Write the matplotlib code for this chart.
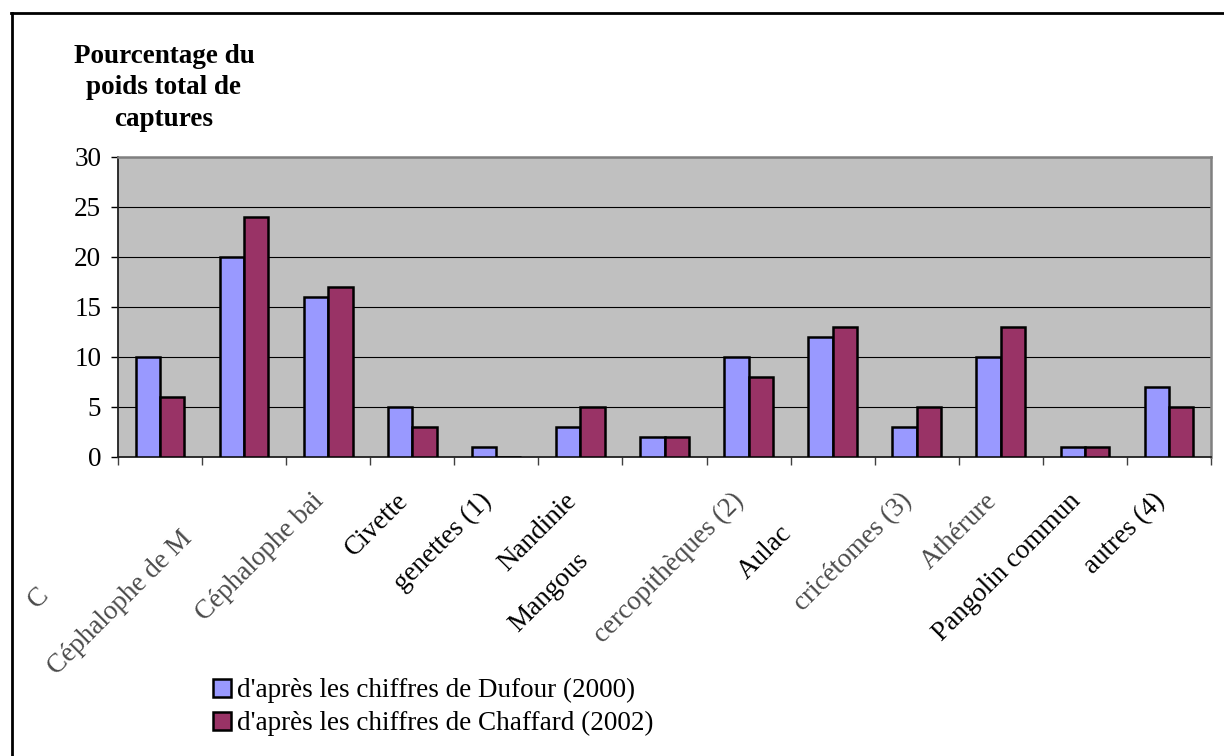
import matplotlib
matplotlib.use('Agg')
import matplotlib.pyplot as plt
import matplotlib.transforms as mtransforms
from matplotlib.lines import Line2D
import numpy as np

plt.rcParams['font.family'] = ['Liberation Serif', 'DejaVu Serif']
plt.rcParams['font.size'] = 19.5

#données
categories = ['C', 'Céphalophe de M', 'Céphalophe bai', 'Civette', 'genettes (1)',
              'Nandinie', 'Mangous', 'cercopithèques (2)', 'Aulac', 'cricétomes (3)',
              'Athérure', 'Pangolin commun', 'autres (4)']
dufour = [10, 20, 16, 5, 1, 3, 2, 10, 12, 3, 10, 1, 7]
chaffard = [6, 24, 17, 3, 0, 5, 2, 8, 13, 5, 13, 1, 5]
series_names = ["d'après les chiffres de Dufour (2000)", "d'après les chiffres de Chaffard (2002)"]
y_ticks = [0, 5, 10, 15, 20, 25, 30]
title = 'Pourcentage du\npoids total de\ncaptures'

fig = plt.figure(figsize=(12.24, 7.56), dpi=100)
ax = fig.add_axes([118/1224, 1-457/756, (1211-118)/1224, 300/756])
ax.set_facecolor('#C0C0C0')

x = np.arange(len(categories)) + 0.5
w = 0.29
b1 = ax.bar(x - w/2, dufour, w, color='#9999FF', edgecolor='black', linewidth=1.8, zorder=3,
            label=series_names[0])
b2 = ax.bar(x + w/2, chaffard, w, color='#993366', edgecolor='black', linewidth=1.8, zorder=3,
            label=series_names[1])

ax.set_xlim(0, len(categories))
ax.set_ylim(0, 30)
ax.set_yticks(y_ticks)
ax.set_xticks(np.arange(len(categories) + 1))
ax.set_xticklabels([])
ax.tick_params(axis='y', direction='out', length=5, width=1, pad=7)
ax.tick_params(axis='x', direction='out', length=5.5, width=1, color='#404040')
ax.yaxis.grid(True, color='black', linewidth=0.8, zorder=1)
ax.set_axisbelow(True)
for s in ['left', 'bottom']:
    ax.spines[s].set_color('#202020')
    ax.spines[s].set_linewidth(1.3)
for s in ['top', 'right']:
    ax.spines[s].set_color('#808080')
    ax.spines[s].set_linewidth(1.8)

#étiquettes inclinées (décalages en pixels)
offsets = [(-115, -135), (-56, -78), (-8, -40), (-8, -40), (-8, -40), (-8, -40), (-80, -100),
           (-8, -40), (-45, -73), (-8, -40), (-8, -40), (-8, -40), (-8, -40)]
blurry = [0, 1, 2, 7, 9, 10]
for i, name in enumerate(categories):
    dx, dy = offsets[i]
    tr = mtransforms.offset_copy(ax.get_xaxis_transform(), fig=fig, x=dx, y=dy, units='dots')
    ax.text(x[i], 0, name, transform=tr, rotation=45, rotation_mode='anchor',
            ha='right', va='center', color='#4a4a4a' if i in blurry else 'black',
            clip_on=False)

fig.text(164/1224, 1-88/756, title, ha='center', va='center', fontweight='bold',
         linespacing=1.32)

fig.legend(handles=[b1, b2], loc='upper left', bbox_to_anchor=(213/1224, 1-678/756),
           frameon=False, borderpad=0, borderaxespad=0, handlelength=0.65, handleheight=0.65,
           handletextpad=0.22, labelspacing=0.3)

#cadre
fig.add_artist(Line2D([11/1224, 1], [1-13/756, 1-13/756], color='black', linewidth=2,
                      transform=fig.transFigure))
fig.add_artist(Line2D([12/1224, 12/1224], [0, 1-13/756], color='black', linewidth=2,
                      transform=fig.transFigure))

plt.savefig('out.png', dpi=100)
